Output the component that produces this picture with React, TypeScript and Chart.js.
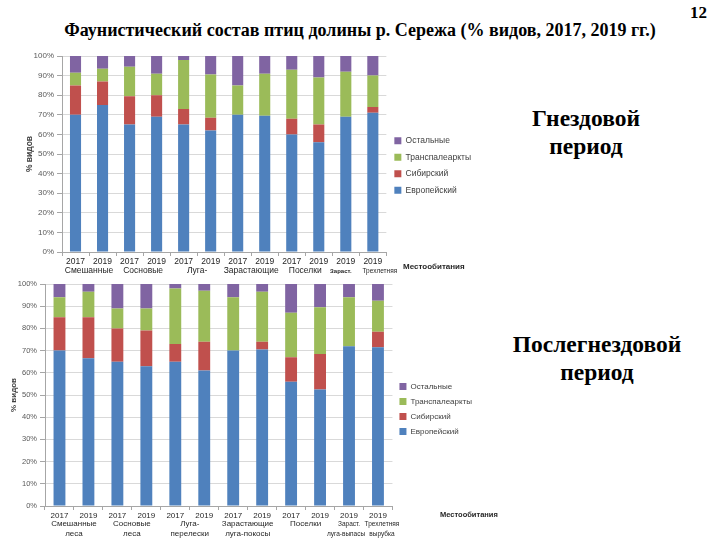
import React, { useEffect, useRef } from 'react';
import { Chart, registerables } from 'chart.js';

Chart.register(...registerables);

// ---------- DATA ----------
const years = ['2017', '2019', '2017', '2019', '2017', '2019', '2017', '2019', '2017', '2019', '2019', '2019'];

const seriesNames = ['Европейский', 'Сибирский', 'Транспалеаркты', 'Остальные'];

// Гнездовой период (nesting period), % of species
const nestEuropean = [70, 75, 65, 69, 65, 62, 70, 69.5, 60, 56, 69, 71];
const nestSiberian = [15, 12, 14.5, 11, 8, 6.5, 0, 0, 8, 9, 0, 3];
const nestTranspal = [6.5, 6.5, 15, 11, 25, 22, 15, 21.5, 25, 24, 23, 16];
const nestOther = [8.5, 6.5, 5.5, 9, 2, 9.5, 15, 9, 7, 11, 8, 10];

// Послегнездовой период (post-nesting period), % of species
const postEuropean = [70, 66.5, 65, 63, 65, 61, 70, 70.5, 56, 52.5, 72, 71.5];
const postSiberian = [15, 18.5, 15, 16, 8, 13, 0, 3.5, 11, 16, 0, 7];
const postTranspal = [9, 11.5, 9, 10, 25, 23, 24, 22.5, 20, 21, 22, 14];
const postOther = [6, 3.5, 11, 11, 2, 3, 6, 3.5, 13, 10.5, 6, 7.5];

// Habitat group labels (first/last category index of each group)
const groupSpans = [[0, 1], [2, 3], [4, 5], [6, 7], [8, 9], [10, 10], [11, 11]];
const groupNames = [
  ['Смешанные', 'леса'],
  ['Сосновые', 'леса'],
  ['Луга-', 'перелески'],
  ['Зарастающие', 'луга-покосы'],
  ['Поселки'],
  ['Зараст.', 'луга-выпасы'],
  ['Трехлетняя', 'вырубка'],
];

const yTicks = [0, 10, 20, 30, 40, 50, 60, 70, 80, 90, 100];

const colors = ['#4F81BD', '#C0504D', '#9BBB59', '#8064A2'];

const SANS = '"Liberation Sans", Arial, sans-serif';
const SERIF = '"Liberation Serif", "Times New Roman", serif';

type GroupStyle = {
  firstY: number;
  lineH: number;
  font: (gi: number, li: number) => string;
  dx: (gi: number, li: number) => number;
  maxLines: number;
};

function groupPlugin(style: GroupStyle) {
  return {
    id: 'groupLabels',
    afterDraw(chart: any) {
      const x = chart.scales.x;
      const ctx = chart.ctx;
      ctx.save();
      ctx.fillStyle = '#262626';
      ctx.textAlign = 'center';
      ctx.textBaseline = 'middle';
      groupSpans.forEach((span, gi) => {
        const cx = (x.getPixelForValue(span[0]) + x.getPixelForValue(span[1])) / 2;
        groupNames[gi].slice(0, style.maxLines).forEach((line, li) => {
          ctx.font = style.font(gi, li);
          ctx.fillText(line, cx + style.dx(gi, li), chart.chartArea.bottom + style.firstY + li * style.lineH);
        });
      });
      ctx.restore();
    },
  };
}

type Cfg = {
  data: number[][];
  padTop: number;
  padBottom: number;
  yWidth: number;
  xHeight: number;
  yTitlePad: number;
  fontSize: number;
  legendPad: number;
  barPct: number;
  group: GroupStyle;
};

function buildConfig(c: Cfg): any {
  return {
    type: 'bar',
    data: {
      labels: years,
      datasets: seriesNames.map((name, i) => ({
        label: name,
        data: c.data[i],
        backgroundColor: colors[i],
        borderWidth: 0,
        barPercentage: c.barPct,
        categoryPercentage: 1,
      })),
    },
    options: {
      responsive: false,
      animation: false,
      layout: { padding: { top: c.padTop, left: 0, right: 0, bottom: c.padBottom } },
      plugins: {
        tooltip: { enabled: false },
        legend: {
          position: 'right',
          reverse: true,
          labels: {
            boxWidth: 7,
            boxHeight: 7,
            padding: c.legendPad,
            color: '#404040',
            font: { family: SANS, size: c.fontSize },
          },
        },
      },
      scales: {
        x: {
          stacked: true,
          afterFit: (s: any) => {
            s.height = c.xHeight;
          },
          grid: {
            display: true,
            drawOnChartArea: false,
            drawTicks: true,
            tickLength: 4,
            color: '#a6a6a6',
          },
          border: { display: true, color: '#a6a6a6' },
          ticks: {
            color: '#262626',
            padding: 1,
            maxRotation: 0,
            autoSkip: false,
            font: { family: SANS, size: c.fontSize },
          },
        },
        y: {
          stacked: true,
          min: 0,
          max: 100,
          afterFit: (s: any) => {
            s.width = c.yWidth;
          },
          afterBuildTicks: (s: any) => {
            s.ticks = yTicks.map((v) => ({ value: v }));
          },
          grid: { color: '#d9d9d9', tickLength: 5, tickColor: '#a6a6a6' },
          border: { display: true, color: '#a6a6a6' },
          ticks: {
            color: '#595959',
            padding: 3,
            font: { family: SANS, size: c.fontSize - 0.5 },
            callback: (v: any) => v + '%',
          },
          title: {
            display: true,
            text: '% видов',
            color: '#404040',
            padding: { top: c.yTitlePad, bottom: 0 },
            font: { family: SANS, size: c.fontSize, weight: 'bold' },
          },
        },
      },
    },
    plugins: [groupPlugin(c.group)],
  };
}

function ChartBox(props: { left: number; top: number; width: number; height: number; cfg: Cfg }) {
  const ref = useRef<HTMLCanvasElement>(null);
  useEffect(() => {
    const chart = new Chart(ref.current as HTMLCanvasElement, buildConfig(props.cfg));
    return () => chart.destroy();
  }, []);
  return (
    <canvas
      ref={ref}
      width={props.width}
      height={props.height}
      style={{ position: 'absolute', left: props.left, top: props.top, width: props.width, height: props.height }}
    />
  );
}

const topCfg: Cfg = {
  data: [nestEuropean, nestSiberian, nestTranspal, nestOther],
  padTop: 11,
  padBottom: 0,
  yWidth: 62,
  xHeight: 23,
  yTitlePad: 25,
  fontSize: 8.5,
  legendPad: 8,
  barPct: 0.41,
  group: {
    firstY: 19,
    lineH: 10,
    maxLines: 1,
    font: (gi) =>
      gi === 5 ? `bold 6px ${SANS}` : gi === 6 ? `6.5px ${SANS}` : `8.5px ${SANS}`,
    dx: (gi) => (gi === 5 ? -5 : gi === 6 ? 7 : 0),
  },
};

const botCfg: Cfg = {
  data: [postEuropean, postSiberian, postTranspal, postOther],
  padTop: 12,
  padBottom: 6,
  yWidth: 45,
  xHeight: 28,
  yTitlePad: 9,
  fontSize: 8,
  legendPad: 7,
  barPct: 0.41,
  group: {
    firstY: 18,
    lineH: 10,
    maxLines: 2,
    font: (gi) => (gi >= 5 ? `6.5px ${SANS}` : `8px ${SANS}`),
    dx: (gi, li) => (gi === 6 ? 4 : gi === 5 && li === 1 ? -3 : 0),
  },
};

export default function App() {
  const abs = (o: any) => ({ position: 'absolute' as const, ...o });
  return (
    <div style={{ position: 'absolute', left: 0, top: 0, width: 720, height: 540, background: '#fff', overflow: 'hidden' }}>
      <div style={abs({ left: 0, top: 19, width: 720, textAlign: 'center', fontFamily: SERIF, fontWeight: 'bold', fontSize: 18, lineHeight: '22px', color: '#000' })}>
        Фаунистический состав птиц долины р. Сережа (% видов, 2017, 2019 гг.)
      </div>
      <div style={abs({ left: 690, top: 3, fontFamily: SERIF, fontWeight: 'bold', fontSize: 17, lineHeight: '20px', color: '#000' })}>12</div>

      <ChartBox left={0} top={45} width={481} height={230} cfg={topCfg} />
      <ChartBox left={0} top={272} width={482} height={268} cfg={botCfg} />

      <div style={abs({ left: 403, top: 261, fontFamily: SANS, fontWeight: 'bold', fontSize: 8, lineHeight: '12px', color: '#262626' })}>Местообитания</div>
      <div style={abs({ left: 440, top: 509, fontFamily: SANS, fontWeight: 'bold', fontSize: 7.5, lineHeight: '12px', color: '#262626' })}>Местообитания</div>

      <div style={abs({ left: 501, top: 104, width: 170, textAlign: 'center', fontFamily: SERIF, fontWeight: 'bold', fontSize: 23.5, lineHeight: '28px', color: '#000' })}>
        Гнездовой<br />период
      </div>
      <div style={abs({ left: 507, top: 330, width: 180, textAlign: 'center', fontFamily: SERIF, fontWeight: 'bold', fontSize: 23.5, lineHeight: '28px', color: '#000' })}>
        Послегнездовой<br />период
      </div>
    </div>
  );
}
